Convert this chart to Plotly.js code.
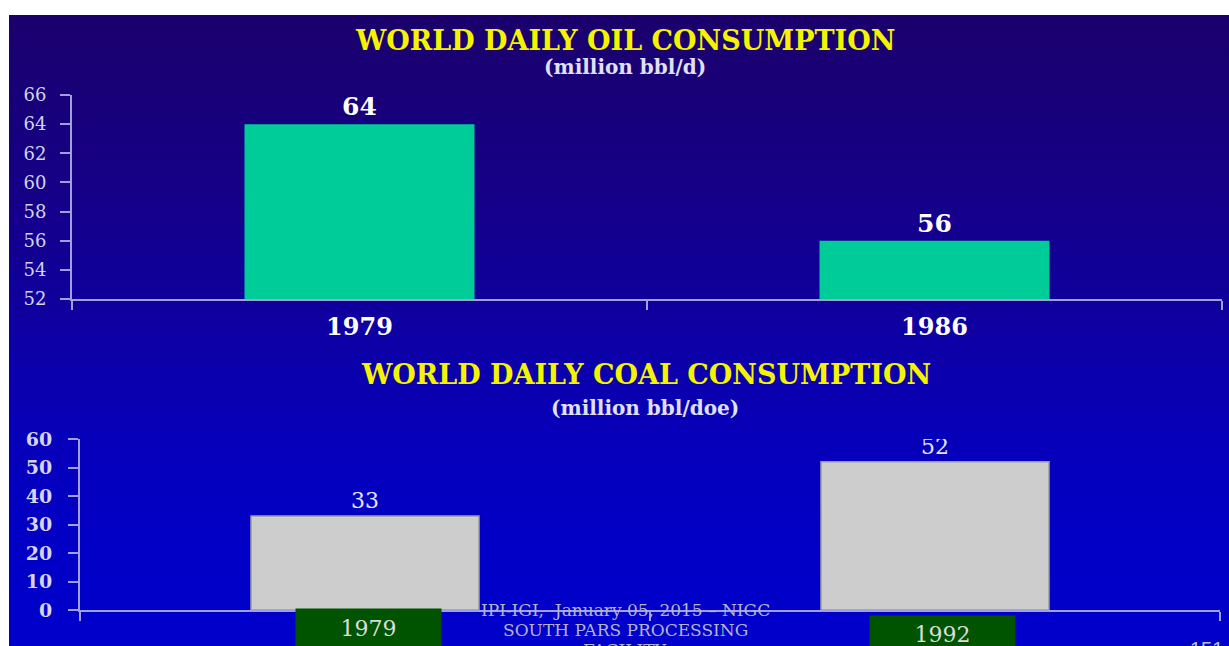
<!DOCTYPE html>
<html>
<head>
<meta charset="utf-8">
<script src="https://cdn.plot.ly/plotly-3.0.1.min.js"></script>
<style>
  html, body { margin:0; padding:0; background:#ffffff; width:1229px; height:646px; overflow:hidden; }
  #bg { position:absolute; left:9px; top:15px; width:1220px; height:631px;
        background: linear-gradient(to bottom, #1b006c 0%, #15008a 30%, #10009c 45%, #0800b8 65%, #0300c4 80%, #0000cc 100%); }
  #chart { position:absolute; left:0; top:0; width:1229px; height:646px; }
</style>
</head>
<body>
<div id="bg"></div>
<div id="chart"></div>
<script>
// ---- data ----
const oilYears = ['1979', '1986'];
const oilValues = [64, 56];
const coalYears = ['1979', '1992'];
const coalValues = [33, 52];
const oilTitle = 'WORLD DAILY OIL CONSUMPTION';
const oilUnit = '(million bbl/d)';
const coalTitle = 'WORLD DAILY COAL CONSUMPTION';
const coalUnit = '(million bbl/doe)';
const footerLines = ['IPI-IGI,  January 05, 2015 \u2013 NIGC', 'SOUTH PARS PROCESSING', 'FACILITY'];
const pageNumber = '151';

// ---- helpers ----
const W = 1229, H = 646;
const px = v => v / W;
const py = v => 1 - v / H;
const serif = 'DejaVu Serif';
const axisCol = '#a0a0dc';

const traces = [
  {
    type: 'bar', x: oilYears, y: oilValues, xaxis: 'x', yaxis: 'y',
    width: 0.4, marker: { color: '#00cc99' },
    text: oilValues.map(String), textposition: 'outside',
    textfont: { family: serif, size: 25, color: '#ffffff', weight: 'bold' },
    hoverinfo: 'x+y'
  },
  {
    type: 'bar', x: coalYears, y: coalValues, xaxis: 'x2', yaxis: 'y2',
    width: 0.4, marker: { color: '#cdcdcd', line: { color: '#9c9c9c', width: 1.5 } },
    text: coalValues.map(String), textposition: 'outside',
    textfont: { family: serif, size: 22, color: '#e4e4ff' },
    hoverinfo: 'x+y'
  }
];

const commonX = {
  type: 'category', range: [-0.5, 1.5], showline: true, linecolor: axisCol, linewidth: 2,
  ticks: 'outside', tickson: 'boundaries', ticklen: 9, tickwidth: 2, tickcolor: axisCol,
  showgrid: false, zeroline: false, fixedrange: true
};
const commonY = {
  showline: true, linecolor: axisCol, linewidth: 2,
  ticks: 'outside', ticklen: 10, tickwidth: 2, tickcolor: axisCol,
  showgrid: false, zeroline: false, fixedrange: true
};

function label(text, x, y, font, extra) {
  return Object.assign({ text: text, x: x, y: y, xref: 'paper', yref: 'paper', showarrow: false,
    xanchor: 'center', yanchor: 'middle', font: font }, extra || {});
}

const titleFont = { family: serif, size: 27, color: '#f4f400', weight: 'bold' };
const unitFont = { family: serif, size: 20, color: '#e0e0f4', weight: 'bold' };
const footFont = { family: serif, size: 17, color: '#b4b4c8' };
const boxFont = { family: serif, size: 22, color: '#dcdcdc' };

const annotations = [
  label(oilTitle, px(625), py(40), titleFont),
  label(oilUnit, px(625), py(67), unitFont),
  label(coalTitle, px(646), py(374), titleFont),
  label(coalUnit, px(645), py(408), unitFont),
  label(footerLines[0], px(625), py(610), footFont),
  label(footerLines[1], px(625), py(630), footFont),
  label(footerLines[2], px(625), py(650), footFont),
  label(pageNumber, px(1188), py(636), { family: 'Liberation Sans', size: 20, color: '#c0c0d0' },
        { xanchor: 'left', yanchor: 'top' }),
  { text: coalYears[0], x: 0, xref: 'x2', y: py(628), yref: 'paper', showarrow: false,
    xanchor: 'center', yanchor: 'middle',
    width: 143, height: 37, bgcolor: '#005400', xshift: 3, font: boxFont },
  { text: coalYears[1], x: 1, xref: 'x2', y: py(634), yref: 'paper', showarrow: false,
    xanchor: 'center', yanchor: 'middle',
    width: 143, height: 34, bgcolor: '#005400', xshift: 7, font: boxFont }
];

const layout = {
  width: W, height: H,
  margin: { l: 0, r: 0, t: 0, b: 0 },
  paper_bgcolor: 'rgba(0,0,0,0)', plot_bgcolor: 'rgba(0,0,0,0)',
  showlegend: false,
  xaxis: Object.assign({}, commonX, {
    domain: [px(72), px(1222)], anchor: 'y',
    tickfont: { family: serif, size: 24, color: '#ffffff', weight: 'bold' },
    ticklabelstandoff: 5
  }),
  yaxis: Object.assign({}, commonY, {
    domain: [py(299), py(95)], anchor: 'x', range: [52, 66], dtick: 2,
    tickfont: { family: serif, size: 18, color: '#d4d4ec' },
    ticklabelstandoff: 10
  }),
  xaxis2: Object.assign({}, commonX, {
    domain: [px(80), px(1220)], anchor: 'y2', showticklabels: false
  }),
  yaxis2: Object.assign({}, commonY, {
    domain: [py(610), py(439)], anchor: 'x2', range: [0, 60], dtick: 10,
    tickfont: { family: serif, size: 19, color: '#d4d4ee', weight: 'bold' },
    ticklabelstandoff: 12
  }),
  annotations: annotations
};

Plotly.newPlot('chart', traces, layout, { displayModeBar: false });
</script>
</body>
</html>
